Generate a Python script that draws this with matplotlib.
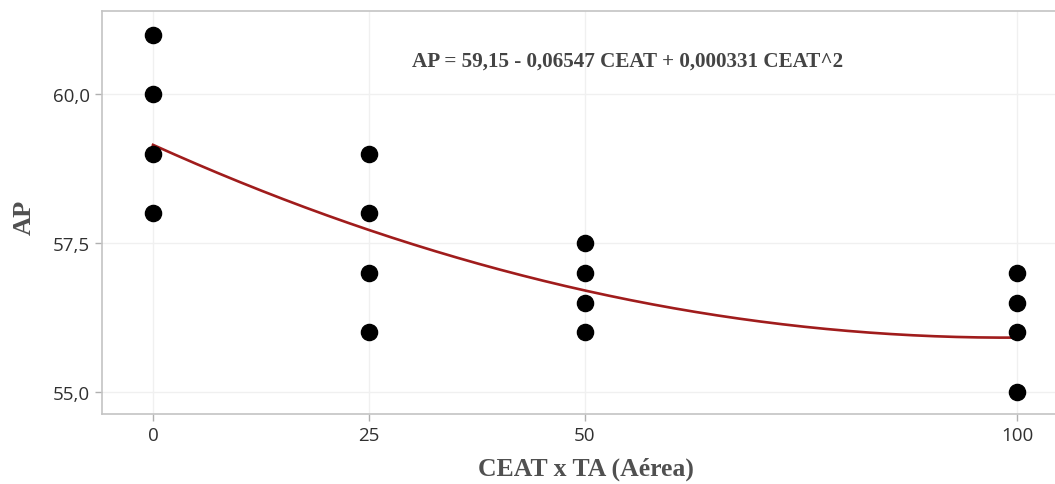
import numpy as np
import matplotlib.pyplot as plt

# níveis de CEAT e valores observados de AP
ceat = [0, 0, 0, 0, 25, 25, 25, 25, 50, 50, 50, 50, 100, 100, 100, 100]
ap = [61.0, 60.0, 59.0, 58.0, 59.0, 58.0, 57.0, 56.0,
      57.5, 57.0, 56.5, 56.0, 57.0, 56.5, 56.0, 55.0]

# coeficientes da regressao quadratica
b0, b1, b2 = 59.15, -0.06547, 0.000331

xticks = [0, 25, 50, 100]
yticks = [55.0, 57.5, 60.0]

fig = plt.figure(figsize=(10.55, 4.85), dpi=100)
ax = fig.add_axes([0.0967, 0.1443, 0.9033, 0.8300])

xs = np.linspace(0, 100, 200)
ax.plot(xs, b0 + b1 * xs + b2 * xs ** 2, color='#a01c1c', lw=1.9, zorder=2)
ax.scatter(ceat, ap, s=135, color='black', zorder=3)

ax.set_xlim(-5.9, 104.4)
ax.set_ylim(54.63, 61.39)
ax.set_xticks(xticks)
ax.set_yticks(yticks)
ax.set_xticklabels([str(v) for v in xticks])
ax.set_yticklabels([('%.1f' % v).replace('.', ',') for v in yticks])

ax.grid(True, color='#f0f0f0', lw=1)
ax.set_axisbelow(True)
for side in ['left', 'top', 'bottom']:
    ax.spines[side].set_color('#c4c4c4')
    ax.spines[side].set_linewidth(1.2)
ax.spines['right'].set_visible(False)
ax.tick_params(colors='#b0b0b0', length=5, width=1, labelsize=13.5,
               labelcolor='#303030')
for lab in ax.get_xticklabels() + ax.get_yticklabels():
    lab.set_family('Open Sans')

ax.set_xlabel('CEAT x TA (Aérea)', family='Liberation Serif', weight='bold',
              fontsize=18.5, color='#505050', labelpad=10)
ax.xaxis.set_label_coords(0.508, -0.105)
ax.set_ylabel('AP', family='Liberation Serif', weight='bold',
              fontsize=19, color='#505050')
ax.yaxis.set_label_coords(-0.07, 0.49)

ax.text(0.551, 0.878, 'AP = 59,15 - 0,06547 CEAT + 0,000331 CEAT^2',
        transform=ax.transAxes, ha='center', va='center',
        family='Liberation Serif', weight='bold', fontsize=15.2, color='#444444')

fig.savefig('out.png', dpi=100)
